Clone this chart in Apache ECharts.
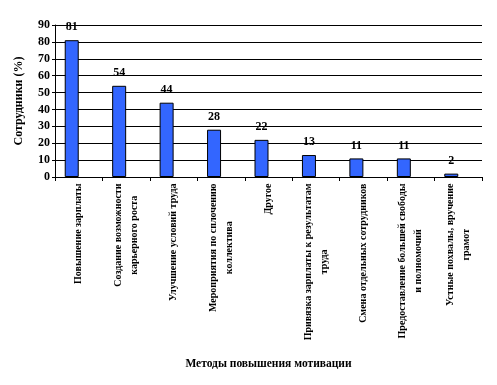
<!DOCTYPE html>
<html><head><meta charset="utf-8">
<script src="https://cdn.jsdelivr.net/npm/echarts@6/dist/echarts.min.js"></script>
<style>html,body{margin:0;padding:0;background:#fff}#c{width:497px;height:385px}</style>
</head><body><div id="c"></div>
<script>
const categories = [
  "Повышение зарплаты",
  "Создание возможности\nкарьерного роста",
  "Улучшение условий труда",
  "Мероприятия по сплочению\nколлектива",
  "Другое",
  "Привязка зарплаты к результатам\nтруда",
  "Смена отдельных сотрудников",
  "Предоставление большей свободы\nи полномочий",
  "Устные похвалы, вручение\nграмот"
];
const values = [81, 54, 44, 28, 22, 13, 11, 11, 2];
const yTicks = [0, 10, 20, 30, 40, 50, 60, 70, 80, 90];
const xTitle = "Методы повышения мотивации";
const yTitle = "Сотрудники (%)";

const FONT = '"Liberation Serif", "Times New Roman", serif';
const ctx = document.createElement('canvas').getContext('2d');
ctx.font = 'bold 10px ' + FONT;
const rich = {};
categories.forEach((c, i) => {
  const w = Math.max(...c.split('\n').map(l => ctx.measureText(l).width)) + 1;
  rich['c' + i] = { width: w, align: 'center', fontSize: 10, fontWeight: 'bold', fontFamily: FONT, lineHeight: 16, color: '#000' };
});

const chart = echarts.init(document.getElementById('c'), null, { renderer: 'canvas' });
chart.setOption({
  animation: false,
  backgroundColor: '#fff',
  grid: { left: 55, right: 15, top: 25, bottom: 208, containLabel: false },
  xAxis: {
    type: 'category',
    data: categories,
    name: xTitle,
    nameLocation: 'middle',
    nameGap: 181,
    nameTextStyle: { fontFamily: FONT, fontWeight: 'bold', fontSize: 11.5, color: '#000' },
    axisLine: { lineStyle: { color: '#000', width: 1 } },
    axisTick: { show: true, alignWithLabel: false, length: 4, lineStyle: { color: '#000' } },
    axisLabel: {
      interval: 0, rotate: 90, margin: 6, color: '#000',
      fontFamily: FONT, fontWeight: 'bold', fontSize: 10,
      formatter: (v, i) => v.split('\n').map(l => '{c' + i + '|' + l + '}').join('\n'),
      rich: rich
    }
  },
  yAxis: {
    type: 'value',
    min: yTicks[0], max: yTicks[yTicks.length - 1], interval: 10,
    name: yTitle,
    nameLocation: 'middle',
    nameGap: 30,
    nameRotate: 90,
    nameTextStyle: { fontFamily: FONT, fontWeight: 'bold', fontSize: 12, color: '#000' },
    axisLine: { show: true, lineStyle: { color: '#000', width: 1 } },
    axisTick: { show: true, length: 3, lineStyle: { color: '#000' } },
    axisLabel: { color: '#000', fontFamily: FONT, fontWeight: 'bold', fontSize: 12, margin: 5 },
    splitLine: { show: true, lineStyle: { color: '#000', width: 1 } }
  },
  series: [
    {
      type: 'bar',
      data: values,
      barWidth: 14,
      barGap: '0%',
      itemStyle: { color: '#3366FF', borderColor: '#000', borderWidth: 1 },
      label: { show: true, position: 'top', distance: 7, color: '#000', fontFamily: FONT, fontWeight: 'bold', fontSize: 12 }
    },
    { type: 'bar', data: [], barWidth: 14, silent: true }
  ]
});
</script></body></html>
